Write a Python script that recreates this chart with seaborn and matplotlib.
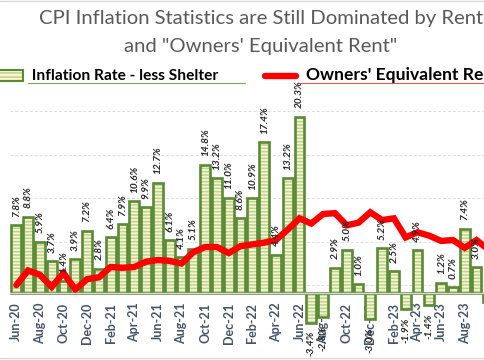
import matplotlib
matplotlib.use("Agg")
import matplotlib.pyplot as plt
from matplotlib.patches import Rectangle
from matplotlib.lines import Line2D
import seaborn as sns
import pandas as pd
import numpy as np

months = ["Jun-20", "Jul-20", "Aug-20", "Sep-20", "Oct-20", "Nov-20", "Dec-20",
          "Jan-21", "Feb-21", "Mar-21", "Apr-21", "May-21", "Jun-21", "Jul-21",
          "Aug-21", "Sep-21", "Oct-21", "Nov-21", "Dec-21", "Jan-22", "Feb-22",
          "Mar-22", "Apr-22", "May-22", "Jun-22", "Jul-22", "Aug-22", "Sep-22",
          "Oct-22", "Nov-22", "Dec-22", "Jan-23", "Feb-23", "Mar-23", "Apr-23",
          "May-23", "Jun-23", "Jul-23", "Aug-23", "Sep-23", "Oct-23"]
less_shelter = [7.8, 8.8, 5.9, 3.7, 1.4, 3.9, 7.2,
                2.8, 6.4, 7.9, 10.6, 9.9, 12.7, 6.1,
                4.1, 5.1, 14.8, 13.2, 11.0, 8.6, 10.9,
                17.4, 4.4, 13.2, 20.3, -3.4, -2.8, 2.9,
                5.0, 1.0, -3.0, 5.2, 2.5, -1.9, 4.9,
                -1.4, 1.2, 0.7, 7.4, 3.0, -1.0]
oer = [0.9, 2.6, 2.1, 0.7, 2.3, 0.4, 1.6,
       1.8, 3.0, 2.9, 3.0, 3.6, 3.8, 3.7,
       3.4, 4.7, 5.3, 5.3, 4.6, 5.4, 5.6,
       5.8, 6.1, 7.3, 8.6, 8.0, 9.1, 9.2,
       7.8, 8.1, 9.3, 8.4, 8.6, 6.4, 7.0,
       6.6, 6.0, 6.1, 5.2, 6.1, 5.0]

title1 = "CPI Inflation Statistics are Still Dominated by Rent"
title2 = "and \"Owners' Equivalent Rent\""
legend_bar = " Inflation Rate - less Shelter"
legend_line = "Owners' Equivalent Rent"

df = pd.DataFrame({"month": months, "less_shelter": less_shelter, "oer": oer})

sns.set_style("white")
plt.rcParams["font.family"] = ["Lato", "DejaVu Sans"]
plt.rcParams["hatch.linewidth"] = 1.1

W, H = 485, 360
fig = plt.figure(figsize=(W / 100, H / 100), dpi=100)

def fx(x):
    return x / W

def fy(y):
    return 1 - y / H

# geometry (pixels)
pitch = 11.8
left_px = 10.4
n = len(months)
ymin, ymax = -4.08, 22.2
scale = 8.68
bottom_px = 293 + (-ymin) * scale
height_px = (ymax - ymin) * scale
ax = fig.add_axes([fx(left_px), fy(bottom_px), (n * pitch) / W, height_px / H])
ax2 = ax.twinx()

cream = "#fff2cc"
stripe = "#b3d695"
dark_green = "#5a8a35"

sns.barplot(data=df, x="month", y="less_shelter", order=months, ax=ax,
            color=cream, width=0.82, zorder=1)
n_first = len(ax.patches)
for p in ax.patches:
    p.set_facecolor(cream)
    p.set_edgecolor(stripe)
    p.set_hatch("-----")
    p.set_linewidth(0)
sns.barplot(data=df, x="month", y="less_shelter", order=months, ax=ax,
            fill=False, color=dark_green, linewidth=2, width=0.82, zorder=1.5)
for p in ax.patches[n_first:]:
    p.set_facecolor("none")
    p.set_edgecolor(dark_green)
    p.set_linewidth(1.9)

sns.lineplot(x=np.arange(n), y=df["oer"], ax=ax, color="#ff0000",
             linewidth=4.6, zorder=2.5, solid_joinstyle="miter")

# the last bar sits past the cropped right edge: its label is not visible
labels = [f"{v:.1f}%" for v in less_shelter[:-1]] + [""]
ax.bar_label(ax.containers[0], labels=labels, padding=6, rotation=90,
             fontsize=7.3, fontweight="bold", fontstyle="italic",
             color="#262626", zorder=4)

ax.set_xlim(-0.5, n - 0.5)
ax.set_ylim(ymin, ymax)
ax2.set_ylim(ymin - 0.92, ymax - 0.92)
ax2.set_yticks([-5, 0, 5, 10, 15, 20])
ax2.grid(axis="y", color="#dcdcdc", linestyle=(0, (3, 2)), linewidth=0.7)
ax2.tick_params(axis="y", length=0, labelright=False, labelleft=False)
ax.set_zorder(ax2.get_zorder() + 1)
ax.patch.set_visible(False)

for s in ["top", "right", "left"]:
    ax.spines[s].set_visible(False)
    ax2.spines[s].set_visible(False)
ax2.spines["bottom"].set_visible(False)
ax.spines["bottom"].set_position(("data", 0))
ax.spines["bottom"].set_color("#d9d9d9")
ax.spines["bottom"].set_linewidth(1)
ax.set_yticks([])
ax.set_ylabel("")
ax.set_xlabel("")
ax2.set_ylabel("")

tick_pos = np.arange(0, n - 1, 2)
ax.set_xticks(tick_pos)
ax.set_xticklabels([months[i] for i in tick_pos], rotation=90, fontsize=9,
                   fontweight="bold", color="#44546a")
ax.tick_params(axis="x", which="major", length=0, pad=7)
ax.set_xticks(np.arange(-0.5, n, 2), minor=True)
ax.tick_params(axis="x", which="minor", length=4, color="#bfbfbf", width=1)

# title
fig.text(fx(261), fy(24), title1, ha="center", va="baseline",
         fontsize=14.6, color="#595959")
fig.text(fx(261), fy(52), title2, ha="center", va="baseline",
         fontsize=14.6, color="#595959")

# legend
sw = Rectangle((fx(-6), fy(81)), (23 + 6) / W, 11 / H, transform=fig.transFigure,
               facecolor=cream, edgecolor=stripe, hatch="----", linewidth=0)
fig.patches.append(sw)
sw2 = Rectangle((fx(-6), fy(81)), (23 + 6) / W, 11 / H, transform=fig.transFigure,
                facecolor="none", edgecolor=dark_green, linewidth=1.5)
fig.patches.append(sw2)
fig.text(fx(28), fy(80), legend_bar, ha="left", va="baseline", fontsize=11.2,
         fontweight="bold", color="black")
fig.add_artist(Line2D([fx(28), fx(245)], [fy(82.5), fy(82.5)],
                      color="#70ad47", linewidth=0.8, transform=fig.transFigure))
fig.add_artist(Line2D([fx(265), fx(296)], [fy(75.5), fy(75.5)],
                      color="#ff0000", linewidth=4.6, solid_capstyle="round",
                      transform=fig.transFigure))
fig.text(fx(306), fy(80), legend_line, ha="left", va="baseline", fontsize=12.6,
         fontweight="bold", color="black")
fig.add_artist(Line2D([fx(300), fx(490)], [fy(82.5), fy(82.5)],
                      color="#ff5050", linewidth=0.8, transform=fig.transFigure))

# chart border lines
fig.add_artist(Line2D([0, 1], [fy(1), fy(1)], color="#d9d9d9", linewidth=1,
                      transform=fig.transFigure))
fig.add_artist(Line2D([0, 1], [fy(358), fy(358)], color="#d9d9d9", linewidth=1,
                      transform=fig.transFigure))

fig.savefig("out.png", dpi=100)
